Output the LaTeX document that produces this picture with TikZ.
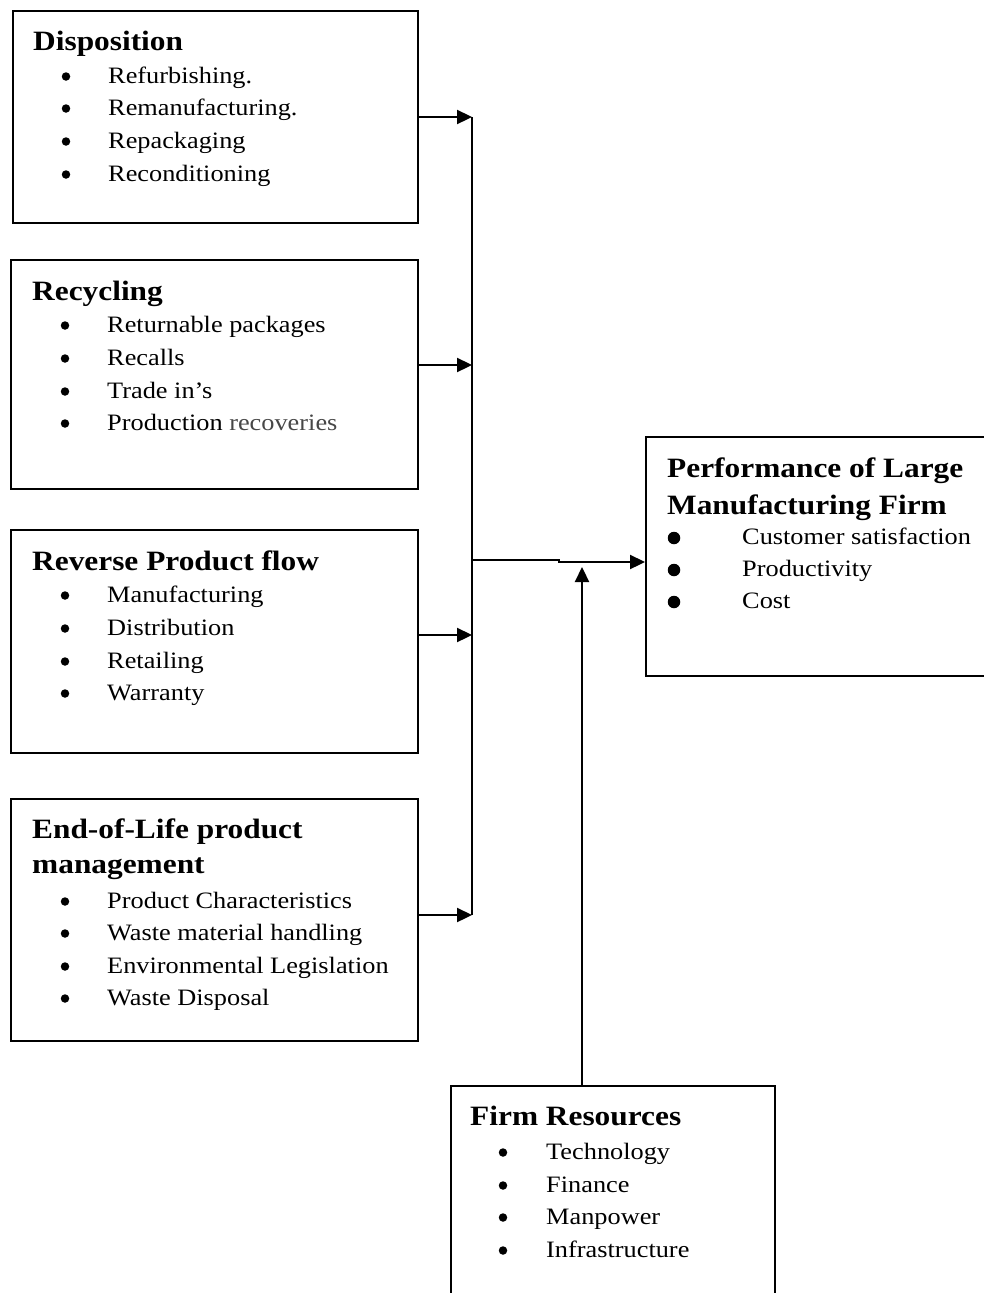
\documentclass[tikz,border=0pt]{standalone}
\usepackage{fontspec}
\setmainfont{Liberation Serif}[FakeStretch=1.12]
\usetikzlibrary{arrows.meta}
\newcommand{\hd}{\fontsize{28}{32}\selectfont\bfseries}
\newcommand{\bd}{\fontsize{23.5}{28}\selectfont}
\tikzset{
  box/.style={draw, line width=2.1pt, rectangle, inner sep=0pt, anchor=north west},
  txt/.style={inner sep=0pt, anchor=base west, font=\bd},
  head/.style={inner sep=0pt, anchor=base west, font=\hd},
  bul/.style={circle, fill=black, inner sep=0pt, minimum size=8.5pt},
  pbul/.style={circle, fill=black, inner sep=0pt, minimum size=12.5pt},
  conn/.style={line width=2.3pt},
  arr/.style={line width=2.3pt, -{Triangle[length=15pt,width=14pt]}}
}
\begin{document}
\begin{tikzpicture}[x=1pt,y=-1pt]
\useasboundingbox (0,0) rectangle (984,1293);

% boxes
\node[box, minimum width=405pt, minimum height=212pt] (disp) at (12,10) {};
\node[box, minimum width=407pt, minimum height=229pt] (rec) at (10,259) {};
\node[box, minimum width=407pt, minimum height=223pt] (rev) at (10,529) {};
\node[box, minimum width=407pt, minimum height=242pt] (eol) at (10,798) {};
\node[box, minimum width=360pt, minimum height=239pt] (perf) at (645,436) {};
\node[box, minimum width=324pt, minimum height=230pt] (firm) at (450,1085) {};

% Disposition
\node[head] (d0) at (33,50) {Disposition};
\node[bul] (db1) at (66,76.5) {};  \node[txt] (d1) at (108,83) {Refurbishing.};
\node[bul] (db2) at (66,108.5) {}; \node[txt] (d2) at (108,115) {Remanufacturing.};
\node[bul] (db3) at (66,141.5) {}; \node[txt] (d3) at (108,148) {Repackaging};
\node[bul] (db4) at (66,174.5) {}; \node[txt] (d4) at (108,181) {Reconditioning};

% Recycling
\node[head] (r0) at (32,300) {Recycling};
\node[bul] (rb1) at (65,325.5) {}; \node[txt] (r1) at (107,332) {Returnable packages};
\node[bul] (rb2) at (65,358.5) {}; \node[txt] (r2) at (107,365) {Recalls};
\node[bul] (rb3) at (65,391.5) {}; \node[txt] (r3) at (107,398) {Trade in’s};
\node[bul] (rb4) at (65,423.5) {}; \node[txt] (r4) at (107,430) {Production \textcolor{black!72}{recoveries}};

% Reverse Product flow
\node[head] (v0) at (32,570) {Reverse Product flow};
\node[bul] (vb1) at (65,595.5) {}; \node[txt] (v1) at (107,602) {Manufacturing};
\node[bul] (vb2) at (65,628.5) {}; \node[txt] (v2) at (107,635) {Distribution};
\node[bul] (vb3) at (65,661.5) {}; \node[txt] (v3) at (107,668) {Retailing};
\node[bul] (vb4) at (65,693.5) {}; \node[txt] (v4) at (107,700) {Warranty};

% End-of-Life
\node[head] (e0) at (32,838) {End-of-Life product};
\node[head] (e0b) at (32,873) {management};
\node[bul] (eb1) at (65,901.5) {};  \node[txt] (e1) at (107,908) {Product Characteristics};
\node[bul] (eb2) at (65,933.5) {};  \node[txt] (e2) at (107,940) {Waste material handling};
\node[bul] (eb3) at (65,966.5) {};  \node[txt] (e3) at (107,973) {Environmental Legislation};
\node[bul] (eb4) at (65,998.5) {}; \node[txt] (e4) at (107,1005) {Waste Disposal};

% Performance
\node[head] (p0) at (667,477) {Performance of Large};
\node[head] (p0b) at (667,514) {Manufacturing Firm};
\node[pbul] (pb1) at (674,538) {}; \node[txt] (p1) at (742,544) {Customer satisfaction};
\node[pbul] (pb2) at (674,570) {}; \node[txt] (p2) at (742,576) {Productivity};
\node[pbul] (pb3) at (674,602) {}; \node[txt] (p3) at (742,608) {Cost};

% Firm Resources
\node[head] (f0) at (470,1125) {Firm Resources};
\node[bul] (fb1) at (503,1152.5) {}; \node[txt] (f1) at (546,1159) {Technology};
\node[bul] (fb2) at (503,1185.5) {}; \node[txt] (f2) at (546,1192) {Finance};
\node[bul] (fb3) at (503,1217.5) {}; \node[txt] (f3) at (546,1224) {Manpower};
\node[bul] (fb4) at (503,1250.5) {}; \node[txt] (f4) at (546,1257) {Infrastructure};

% connectors
\coordinate (b1) at (472,117);
\coordinate (b2) at (472,365);
\coordinate (b3) at (472,635);
\coordinate (b4) at (472,915);
\coordinate (j) at (472,560);
\coordinate (k1) at (559,560);
\coordinate (k2) at (559,562);
\coordinate (fa) at (582,567);

\draw[conn] (b1) -- (b4);
\draw[arr] (disp.east |- b1) -- (b1);
\draw[arr] (rec.east |- b2) -- (b2);
\draw[arr] (rev.east |- b3) -- (b3);
\draw[arr] (eol.east |- b4) -- (b4);
\draw[arr] (j) -- (k1) -- (k2) -- (perf.west |- k2);
\draw[arr] (firm.north -| fa) -- (fa);
\end{tikzpicture}
\end{document}
